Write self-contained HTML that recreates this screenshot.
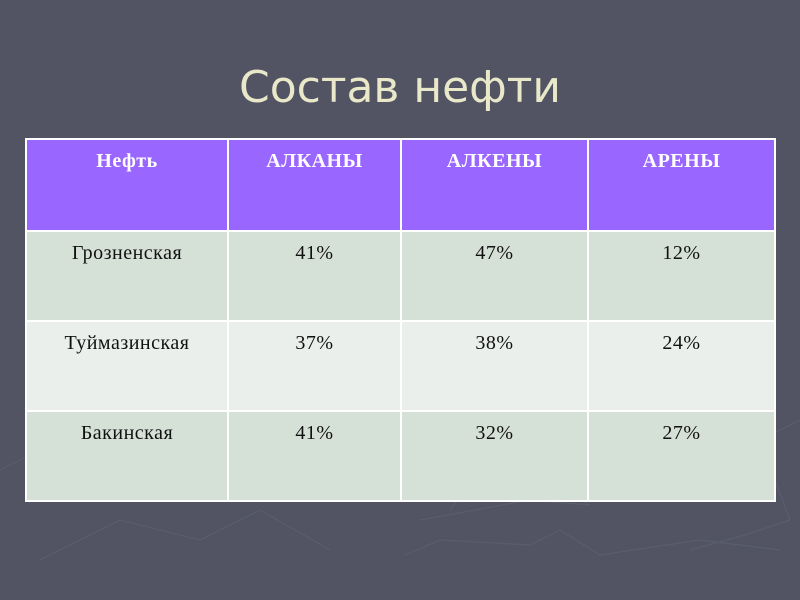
<!DOCTYPE html>
<html><head><meta charset="utf-8"><style>
body{margin:0;width:800px;height:600px;background:#525463;overflow:hidden;position:relative;font-family:"Liberation Serif",serif}
.t{position:absolute;left:0;width:800px;top:62px;text-align:center;font-family:"DejaVu Sans","Liberation Sans",sans-serif;font-size:44px;color:#e9e9c9}
table{position:absolute;left:25px;top:138px;border-collapse:collapse;table-layout:fixed}
td{border:2px solid #fff;height:90px;vertical-align:top;text-align:center;font-size:20px;padding:10px 0 0 0;box-sizing:border-box;letter-spacing:0.5px}
tr.h td{background:#9966ff;color:#fff;font-weight:bold;height:92px}
tr.a td{background:#d5e0d7;color:#111}
tr.b td{background:#ebefeb;color:#111}
</style></head><body>
<svg width="800" height="600" style="position:absolute;left:0;top:0" fill="none" stroke="#5a5d6b" stroke-width="1.2">
<polyline points="405,555 440,540 530,545 560,530 600,555 700,540 780,550"/>
<polyline points="420,520 530,500 590,505 520,465 480,470 450,510"/>
<polyline points="690,550 745,535 790,520 760,440 800,420"/>
<polyline points="40,560 120,520 200,540 260,510 330,550"/>
<polyline points="0,470 60,440 120,500 200,470"/>
</svg>
<div class="t">Состав нефти</div>
<table>
<colgroup><col style="width:202px"><col style="width:173px"><col style="width:187px"><col style="width:187px"></colgroup>
<tr class="h"><td>Нефть</td><td>АЛКАНЫ</td><td>АЛКЕНЫ</td><td>АРЕНЫ</td></tr>
<tr class="a"><td>Грозненская</td><td>41%</td><td>47%</td><td>12%</td></tr>
<tr class="b"><td>Туймазинская</td><td>37%</td><td>38%</td><td>24%</td></tr>
<tr class="a"><td>Бакинская</td><td>41%</td><td>32%</td><td>27%</td></tr>
</table>
</body></html>
